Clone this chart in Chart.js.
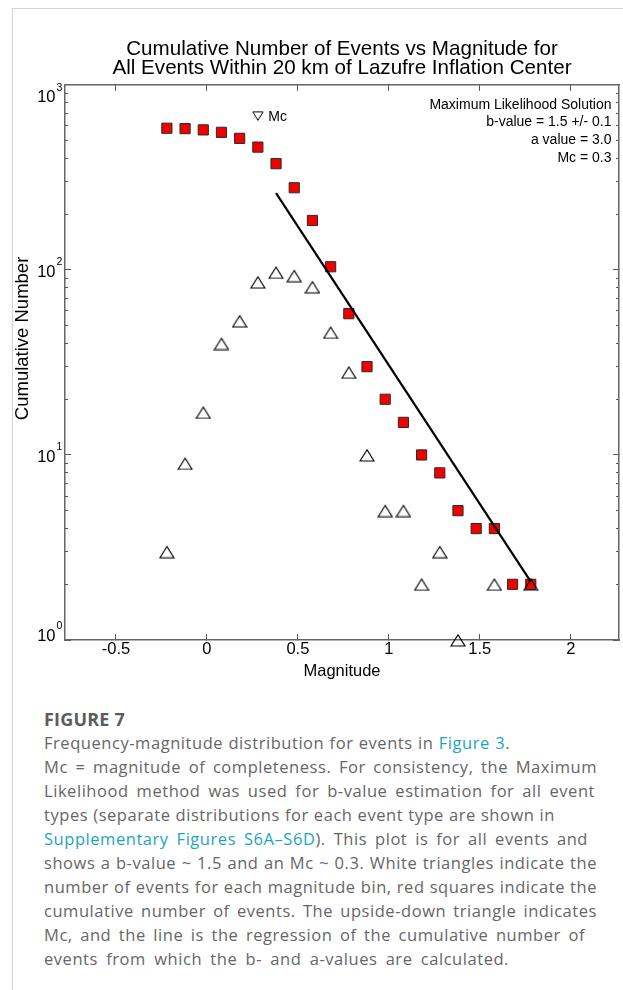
<!DOCTYPE html>
<html>
<head>
<meta charset="utf-8">
<script src="https://cdn.jsdelivr.net/npm/chart.js@4.4.1/dist/chart.umd.min.js"></script>
<style>
  html, body { margin: 0; padding: 0; background: #fff; width: 623px; height: 990px; overflow: hidden; }
  #lineTop { position: absolute; left: 12px; top: 8px; width: 611px; height: 1px; background: #d4d4d4; }
  #lineLeft { position: absolute; left: 12px; top: 8px; width: 1px; height: 982px; background: #d4d4d4; }
  #wrap { position: absolute; left: 0; top: 0; width: 623px; height: 700px; }
  #caption { position: absolute; left: 44px; top: 707px; font-family: "Open Sans", "Noto Sans", sans-serif;
             color: #666; font-size: 16.5px; letter-spacing: 0.55px; line-height: 24px; white-space: nowrap; }
  #caption .fig { font-weight: bold; color: #5c5c5c; font-size: 18px; letter-spacing: 0.2px; }
  #caption .j { text-align: justify; text-align-last: justify; }
  #caption a { color: #1ba5c5; text-decoration: none; }
</style>
</head>
<body>
<div id="lineTop"></div>
<div id="lineLeft"></div>
<div id="wrap"><canvas id="c" width="623" height="700"></canvas></div>
<div id="caption">
  <div class="fig">FIGURE 7</div>
  <div class="j" style="width:466px">Frequency-magnitude distribution for events in <a>Figure 3</a>.</div>
  <div class="j" style="width:553px">Mc = magnitude of completeness. For consistency, the Maximum</div>
  <div class="j" style="width:551px">Likelihood method was used for b-value estimation for all event</div>
  <div class="j" style="width:511px">types (separate distributions for each event type are shown in</div>
  <div class="j" style="width:544px"><a>Supplementary Figures S6A–S6D</a>). This plot is for all events and</div>
  <div class="j" style="width:553px">shows a b-value ~ 1.5 and an Mc ~ 0.3. White triangles indicate the</div>
  <div class="j" style="width:553px">number of events for each magnitude bin, red squares indicate the</div>
  <div class="j" style="width:553px">cumulative number of events. The upside-down triangle indicates</div>
  <div class="j" style="width:541px">Mc, and the line is the regression of the cumulative number of</div>
  <div class="j" style="width:465px">events from which the b- and a-values are calculated.</div>
</div>
<script>
// ---------------- data ----------------
const magnitudes = [-0.22, -0.12, -0.02, 0.08, 0.18, 0.28, 0.38, 0.48, 0.58, 0.68, 0.78, 0.88, 0.98, 1.08, 1.18, 1.28, 1.38, 1.48, 1.58, 1.68, 1.78];
const cumulativeCounts = [583, 580, 571, 554, 514, 461, 375, 278, 185, 104, 58, 30, 20, 15, 10, 8, 5, 4, 4, 2, 2];
const binCounts = [3, 9, 17, 40, 53, 86, 97, 93, 81, 46, 28, 10, 5, 5, 2, 3, 1, null, 2, null, 2];
const regressionMag = [0.38, 1.78];
const regressionCount = [260, 2.07];
const mcMag = [0.28];
const mcCount = [675];
const mcLabel = 'Mc';

const titleLines = ['Cumulative Number of Events vs Magnitude for', 'All Events Within 20 km of Lazufre Inflation Center'];
const xAxisTitle = 'Magnitude';
const yAxisTitle = 'Cumulative Number';
const solutionLines = ['Maximum Likelihood Solution', 'b-value = 1.5 +/- 0.1', 'a value = 3.0', 'Mc = 0.3'];

const xTickValues = [-0.5, 0, 0.5, 1, 1.5, 2];
const xTickLabels = ['-0.5', '0', '0.5', '1', '1.5', '2'];
const yMajorTicks = [1, 10, 100, 1000];
const yTickBases = ['10', '10', '10', '10'];
const yTickExponents = ['0', '1', '2', '3'];
const yMinorTicks = [2, 3, 4, 5, 6, 7, 8, 9, 20, 30, 40, 50, 60, 70, 80, 90, 200, 300, 400, 500, 600, 700, 800, 900];

// ---------------- marker images ----------------
function makeTriangle(w, h, up, lw) {
  const c = document.createElement('canvas');
  c.width = w; c.height = h;
  const g = c.getContext('2d');
  g.lineWidth = lw; g.strokeStyle = '#000'; g.lineJoin = 'miter';
  const m = lw / 2 + 0.4, a = lw + 0.6;
  g.beginPath();
  if (up) { g.moveTo(w / 2, a); g.lineTo(w - m, h - m); g.lineTo(m, h - m); }
  else { g.moveTo(m, m); g.lineTo(w - m, m); g.lineTo(w / 2, h - a); }
  g.closePath();
  g.stroke();
  return c;
}
const triUp = makeTriangle(16, 14, true, 1.2);
const triDown = makeTriangle(12, 11, false, 1.0);

const FONT = 'Liberation Sans, Arial, Helvetica, sans-serif';

// ---------------- plugins ----------------
const annotations = {
  id: 'annotations',
  afterDraw(chart) {
    const ctx = chart.ctx;
    const area = chart.chartArea;
    const ys = chart.scales.y;
    ctx.save();
    ctx.fillStyle = '#000';
    // y tick labels 10^n
    yMajorTicks.forEach((v, i) => {
      const p = ys.getPixelForValue(v);
      let cy = p + 2.5;
      cy = Math.max(area.top + 13, Math.min(area.bottom - 4, cy));
      ctx.font = '16.5px ' + FONT;
      ctx.textAlign = 'right'; ctx.textBaseline = 'middle';
      ctx.fillText(yTickBases[i], area.left - 9.5, cy);
      ctx.font = '10.5px ' + FONT;
      ctx.textAlign = 'left';
      ctx.fillText(yTickExponents[i], area.left - 8.5, cy - 10);
    });
    // y axis title
    ctx.save();
    ctx.font = '18.5px ' + FONT;
    ctx.translate(23, (area.top + area.bottom) / 2 - 24);
    ctx.rotate(-Math.PI / 2);
    ctx.textAlign = 'center'; ctx.textBaseline = 'middle';
    ctx.fillText(yAxisTitle, 0, 0);
    ctx.restore();
    // solution text box
    ctx.font = '14px ' + FONT;
    ctx.textAlign = 'right'; ctx.textBaseline = 'middle';
    solutionLines.forEach((t, i) => ctx.fillText(t, area.right - 7.5, area.top + 20 + i * 17.6));
    // Mc label beside marker
    const meta = chart.getDatasetMeta(3);
    const el = meta.data[0];
    if (el) {
      ctx.textAlign = 'left';
      ctx.fillText(mcLabel, el.x + 10.5, el.y + 0.5);
    }
    ctx.restore();
  }
};

const gridBase = { drawOnChartArea: false, drawTicks: true, color: '#555', lineWidth: 1 };
const borderOn = { display: true, color: '#666', width: 1.5 };
const setX = s => { s.ticks = xTickValues.map(v => ({ value: v })); };
const setYMajor = s => { s.ticks = yMajorTicks.map(v => ({ value: v, major: true })); };
const setYMinor = s => { s.ticks = yMinorTicks.map(v => ({ value: v })); };
const noPad = s => { s.paddingLeft = 0; s.paddingRight = 0; s.paddingTop = 0; s.paddingBottom = 0; };

new Chart(document.getElementById('c'), {
  type: 'scatter',
  data: {
    datasets: [
      {
        label: 'Regression',
        type: 'line',
        data: regressionMag.map((m, i) => ({ x: m, y: regressionCount[i] })),
        borderColor: '#000', borderWidth: 2.2, pointRadius: 0, fill: false, order: 0
      },
      {
        label: 'Events per bin',
        data: magnitudes.map((m, i) => ({ x: m, y: binCounts[i] })).filter(p => p.y !== null),
        pointStyle: triUp, pointRadius: 8, order: 1, clip: false
      },
      {
        label: 'Cumulative',
        data: magnitudes.map((m, i) => ({ x: m, y: cumulativeCounts[i] })),
        pointStyle: 'rect', pointRadius: 7.2, backgroundColor: '#f20000', borderColor: '#2a2a2a', borderWidth: 1, order: 2
      },
      {
        label: 'Mc',
        data: mcMag.map((m, i) => ({ x: m, y: mcCount[i] })),
        pointStyle: triDown, pointRadius: 6, order: 1
      }
    ]
  },
  options: {
    responsive: false,
    devicePixelRatio: 1,
    animation: false,
    events: [],
    layout: { autoPadding: false, padding: { top: 0, right: 4, bottom: 0, left: 0 } },
    plugins: {
      legend: { display: false },
      tooltip: { enabled: false },
      title: {
        display: true, fullSize: false, text: titleLines, color: '#000',
        font: { family: FONT, size: 20.6, lineHeight: 0.89, weight: 'normal' },
        padding: { top: 40.5, bottom: 7.7 }
      }
    },
    scales: {
      x: {
        type: 'linear', position: 'bottom', min: -0.78, max: 2.265,
        afterBuildTicks: setX, afterFit: s => { s.height = 60; noPad(s); },
        grid: { ...gridBase, tickLength: -6 }, border: borderOn,
        ticks: { font: { family: FONT, size: 16.5 }, color: '#000', padding: 6, maxRotation: 0, autoSkip: false,
                 callback: v => { const i = xTickValues.indexOf(v); return i >= 0 ? xTickLabels[i] : ''; } },
        title: { display: true, text: xAxisTitle, color: '#000', font: { family: FONT, size: 16.5 }, padding: { top: 0, bottom: 18.9 } }
      },
      xTop: {
        type: 'linear', position: 'top', min: -0.78, max: 2.265,
        afterBuildTicks: setX, afterFit: s => { s.height = 0; noPad(s); },
        grid: { ...gridBase, tickLength: -6 }, border: borderOn, ticks: { display: false }
      },
      y: {
        type: 'logarithmic', position: 'left', min: 1, max: 1000, weight: 1,
        afterBuildTicks: setYMajor, afterFit: s => { s.width = 65; noPad(s); },
        grid: { ...gridBase, tickLength: -6 }, border: borderOn, ticks: { display: false }
      },
      yMinor: {
        type: 'logarithmic', position: 'left', min: 1, max: 1000, weight: 0,
        afterBuildTicks: setYMinor, afterFit: s => { s.width = 0; noPad(s); },
        grid: { ...gridBase, tickLength: -3 }, border: { display: false }, ticks: { display: false }
      },
      yRight: {
        type: 'logarithmic', position: 'right', min: 1, max: 1000, weight: 0,
        afterBuildTicks: setYMajor, afterFit: s => { s.width = 0; noPad(s); },
        grid: { ...gridBase, tickLength: -6 }, border: borderOn, ticks: { display: false }
      },
      yRightMinor: {
        type: 'logarithmic', position: 'right', min: 1, max: 1000, weight: 1,
        afterBuildTicks: setYMinor, afterFit: s => { s.width = 0; noPad(s); },
        grid: { ...gridBase, tickLength: -3 }, border: { display: false }, ticks: { display: false }
      }
    }
  },
  plugins: [annotations]
});
</script>
</body>
</html>
